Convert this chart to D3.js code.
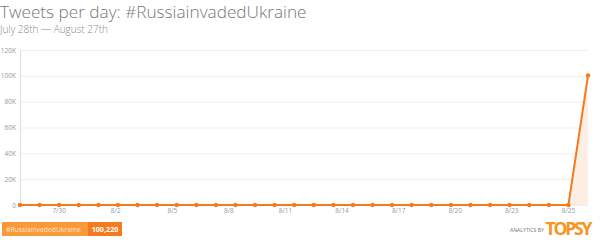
<!DOCTYPE html>
<html><head><meta charset="utf-8">
<script src="https://cdn.jsdelivr.net/npm/d3@7"></script>
<style>body{margin:0;background:#fff;}svg{display:block;}</style>
</head><body>
<svg id="c" width="600" height="246"></svg>
<script>
const dates = ["7/28","7/29","7/30","7/31","8/1","8/2","8/3","8/4","8/5","8/6","8/7","8/8","8/9","8/10","8/11","8/12","8/13","8/14","8/15","8/16","8/17","8/18","8/19","8/20","8/21","8/22","8/23","8/24","8/25","8/26"];
const tweets = [0,0,0,0,0,0,0,0,0,0,0,0,0,0,0,0,0,0,0,0,0,0,0,0,0,0,0,0,0,100220];
const xTickLabels = ["7/30","8/2","8/5","8/8","8/11","8/14","8/17","8/20","8/23","8/25"];
const yTicks = [0,20000,40000,60000,80000,100000,120000];
const seriesName = "#RussiainvadedUkraine";
const total = 100220;

const svg = d3.select("#c");
const orange = "#f47a20";
const x = d3.scalePoint().domain(dates).range([20, 588]);
const y = d3.scaleLinear().domain([0,120000]).range([205, 50]);
const font = "'Open Sans', sans-serif";

// title
svg.append("text").attr("x",0).attr("y",18.2).attr("font-family",font).attr("font-weight",300)
  .attr("font-size",17.2).attr("fill","#777").text("Tweets per day: " + seriesName);
svg.append("text").attr("x",0).attr("y",33.4).attr("font-family",font).attr("font-weight",300)
  .attr("font-size",10).attr("fill","#888").text("July 28th \u2014 August 27th");

// grid
const yAxis = d3.axisLeft(y).tickValues(yTicks).tickSize(-568)
  .tickFormat(d => d === 0 ? "0" : (d/1000) + "K");
const gy = svg.append("g").attr("transform","translate(20,0)").call(yAxis);
gy.select(".domain").remove();
gy.selectAll(".tick line").attr("stroke","#eeeeee");
gy.selectAll(".tick text").attr("font-family",font).attr("font-size",6.5).attr("fill","#999").attr("x",-4);
svg.append("line").attr("x1",20.5).attr("x2",20.5).attr("y1",50).attr("y2",205).attr("stroke","#dddddd");

// area + line
const data = dates.map((d,i)=>({d, v: tweets[i]}));
svg.append("path").datum(data)
  .attr("d", d3.area().x(p=>x(p.d)).y0(y(0)).y1(p=>y(p.v)))
  .attr("fill","#fdeee3");
svg.append("path").datum(data)
  .attr("d", d3.line().x(p=>x(p.d)).y(p=>y(p.v)))
  .attr("fill","none").attr("stroke",orange).attr("stroke-width",2);
svg.selectAll("circle.pt").data(data).join("circle").attr("class","pt")
  .attr("cx",p=>x(p.d)).attr("cy",p=>y(p.v)).attr("r",2.2).attr("fill",orange);

// x tick labels
const xl = d3.scaleLinear().domain([0, xTickLabels.length-1]).range([x("7/30"), x("8/25")]);
svg.selectAll("text.xt").data(xTickLabels).join("text").attr("class","xt")
  .attr("x",(d,i)=>xl(i)).attr("y",213).attr("text-anchor","middle")
  .attr("font-family",font).attr("font-size",6.5).attr("fill","#999").text(d=>d);

// legend
svg.append("rect").attr("x",2).attr("y",222).attr("width",86).attr("height",14).attr("fill","#f99a3a");
svg.append("rect").attr("x",88).attr("y",222).attr("width",34).attr("height",14).attr("fill","#f47b20");
svg.append("text").attr("x",6).attr("y",231.5).attr("font-family",font).attr("font-size",6.8)
  .attr("fill","#fde3cc").text(seriesName);
svg.append("text").attr("x",105).attr("y",231.8).attr("text-anchor","middle").attr("font-family",font)
  .attr("font-weight",700).attr("font-size",7.2).attr("fill","#fff").text(d3.format(",")(total));

// branding
svg.append("text").attr("x",544).attr("y",232).attr("text-anchor","end").attr("font-family",font)
  .attr("font-size",5.2).attr("fill","#777").text("ANALYTICS BY");
svg.append("text").attr("x",592.5).attr("y",234.5).attr("text-anchor","end").attr("font-family",font)
  .attr("font-weight",700).attr("font-size",17.5).attr("fill","#f7941d").attr("textLength",47).text("TOPSY");
</script>
</body></html>
